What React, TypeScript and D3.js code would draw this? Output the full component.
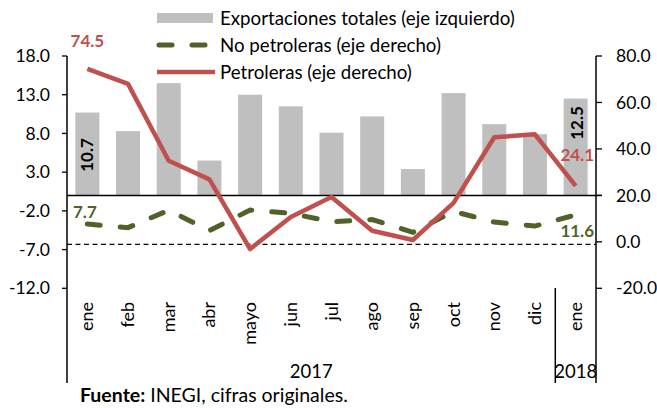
import React, { useEffect, useRef } from "react";
import * as d3 from "d3";

const categories = ["ene", "feb", "mar", "abr", "mayo", "jun", "jul", "ago", "sep", "oct", "nov", "dic", "ene"];
const years = [
  { label: "2017", from: 0, to: 11 },
  { label: "2018", from: 12, to: 12 },
];
const totales = [10.7, 8.3, 14.5, 4.5, 13.0, 11.5, 8.1, 10.2, 3.4, 13.2, 9.2, 7.9, 12.5];
const noPetroleras = [7.7, 6.1, 13.6, 4.8, 13.7, 12.3, 8.6, 9.6, 4.1, 13.1, 8.5, 6.8, 11.6];
const petroleras = [74.5, 68.0, 34.9, 26.9, -3.1, 10.7, 19.3, 4.8, 0.8, 16.8, 45.0, 46.3, 24.1];
const leftTicks = [-12, -7, -2, 3, 8, 13, 18];
const rightTicks = [-20, 0, 20, 40, 60, 80];
const legendLabels = [
  "Exportaciones totales (eje izquierdo)",
  "No petroleras (eje derecho)",
  "Petroleras (eje derecho)",
];

const FONT = "Lato, 'Open Sans', sans-serif";
const GRAY = "#BFBFBF";
const RED = "#C0504D";
const GREEN = "#4F6228";

export default function App() {
  const ref = useRef<SVGSVGElement>(null);

  useEffect(() => {
    const svg = d3.select(ref.current);
    svg.selectAll("*").remove();

    const left = 67, right = 596, top = 56, bottom = 288.3;
    const x = d3.scaleBand<number>().domain(categories.map((_, i) => i)).range([left, right]).paddingInner(0.41).paddingOuter(0.205);
    const yL = d3.scaleLinear().domain([-12, 18]).range([bottom, top]);
    const yR = d3.scaleLinear().domain([-20, 80]).range([bottom, top]);
    const cx = (i: number) => (x(i) as number) + x.bandwidth() / 2;
    const fmt = (v: number) => v.toFixed(1);

    // bars
    svg.append("g").selectAll("rect").data(totales).join("rect")
      .attr("x", (_, i) => x(i) as number)
      .attr("width", x.bandwidth())
      .attr("y", (d) => Math.min(yL(d), yL(0)))
      .attr("height", (d) => Math.abs(yL(d) - yL(0)))
      .attr("fill", GRAY);

    // reference dashed line at right-axis zero
    svg.append("line")
      .attr("x1", left).attr("x2", right)
      .attr("y1", yR(0) + 2.5).attr("y2", yR(0) + 2.5)
      .attr("stroke", "#000").attr("stroke-width", 1.2).attr("stroke-dasharray", "5 3.5");

    // category axis at left zero
    svg.append("line")
      .attr("x1", left).attr("x2", right + 6)
      .attr("y1", yL(0)).attr("y2", yL(0))
      .attr("stroke", "#000").attr("stroke-width", 1.5);

    // axes lines
    const axisBottom = 383;
    svg.append("line").attr("x1", left).attr("x2", left).attr("y1", top).attr("y2", axisBottom)
      .attr("stroke", "#000").attr("stroke-width", 1.5);
    svg.append("line").attr("x1", right).attr("x2", right).attr("y1", top).attr("y2", axisBottom)
      .attr("stroke", "#000").attr("stroke-width", 1.5);
    // group separator
    const sepX = (x(12) as number) - (x.step() - x.bandwidth()) / 2;
    svg.append("line").attr("x1", sepX).attr("x2", sepX).attr("y1", 288).attr("y2", axisBottom)
      .attr("stroke", "#000").attr("stroke-width", 1.5);

    // left ticks
    const lt = svg.append("g");
    leftTicks.forEach((t) => {
      lt.append("line").attr("x1", left - 5).attr("x2", left).attr("y1", yL(t)).attr("y2", yL(t))
        .attr("stroke", "#000").attr("stroke-width", 1.3);
      lt.append("text").attr("x", 50).attr("y", yL(t)).attr("dy", "0.35em")
        .attr("text-anchor", "end").attr("font-family", FONT).attr("font-size", 17.5).attr("fill", "#000")
        .text(fmt(t));
    });
    const rt = svg.append("g");
    rightTicks.forEach((t) => {
      rt.append("line").attr("x1", right).attr("x2", right + 6).attr("y1", yR(t)).attr("y2", yR(t))
        .attr("stroke", "#000").attr("stroke-width", 1.3);
      rt.append("text").attr("x", 616).attr("y", yR(t)).attr("dy", "0.35em")
        .attr("text-anchor", "start").attr("font-family", FONT).attr("font-size", 17.5).attr("fill", "#000")
        .text(fmt(t));
    });

    // category labels
    categories.forEach((c, i) => {
      svg.append("text")
        .attr("transform", `translate(${cx(i) + 6},302) rotate(-90)`)
        .attr("text-anchor", "end").attr("font-family", FONT).attr("font-size", 18).attr("fill", "#000")
        .text(c);
    });
    // year labels
    years.forEach((yr) => {
      const a = (x(yr.from) as number) - (x.step() - x.bandwidth()) / 2;
      const b = (x(yr.to) as number) + x.bandwidth() + (x.step() - x.bandwidth()) / 2;
      svg.append("text").attr("x", (a + b) / 2).attr("y", 378)
        .attr("text-anchor", "middle").attr("font-family", FONT).attr("font-size", 18.5).attr("fill", "#000")
        .text(yr.label);
    });

    // lines
    const lineR = d3.line<number>().x((_, i) => cx(i)).y((d) => yR(d));
    svg.append("path").datum(noPetroleras).attr("d", lineR)
      .attr("fill", "none").attr("stroke", GREEN).attr("stroke-width", 5)
      .attr("stroke-linecap", "round").attr("stroke-dasharray", "13 20");
    svg.append("path").datum(petroleras).attr("d", lineR)
      .attr("fill", "none").attr("stroke", RED).attr("stroke-width", 4.5)
      .attr("stroke-linejoin", "round");

    // data labels
    const last = categories.length - 1;
    svg.append("text").attr("x", cx(0)).attr("y", 47).attr("text-anchor", "middle")
      .attr("font-family", FONT).attr("font-weight", "bold").attr("font-size", 17).attr("fill", RED)
      .text(fmt(petroleras[0]));
    svg.append("text").attr("x", 594).attr("y", 161).attr("text-anchor", "end")
      .attr("font-family", FONT).attr("font-weight", "bold").attr("font-size", 17).attr("fill", RED)
      .text(fmt(petroleras[last]));
    svg.append("text").attr("x", 73).attr("y", 218).attr("text-anchor", "start")
      .attr("font-family", FONT).attr("font-weight", "bold").attr("font-size", 17).attr("fill", GREEN)
      .text(fmt(noPetroleras[0]));
    svg.append("text").attr("x", 594).attr("y", 237).attr("text-anchor", "end")
      .attr("font-family", FONT).attr("font-weight", "bold").attr("font-size", 17).attr("fill", GREEN)
      .text(fmt(noPetroleras[last]));
    svg.append("text").attr("transform", `translate(${cx(0) + 6},155) rotate(-90)`)
      .attr("text-anchor", "middle").attr("font-family", FONT).attr("font-weight", "bold").attr("font-size", 17).attr("fill", "#000")
      .text(fmt(totales[0]));
    svg.append("text").attr("transform", `translate(${cx(last) + 7},123) rotate(-90)`)
      .attr("text-anchor", "middle").attr("font-family", FONT).attr("font-weight", "bold").attr("font-size", 17).attr("fill", "#000")
      .text(fmt(totales[last]));

    // legend
    const lg = svg.append("g");
    const rows = [18, 45, 72];
    lg.append("rect").attr("x", 157).attr("y", 13).attr("width", 56).attr("height", 10).attr("fill", GRAY);
    lg.append("line").attr("x1", 159).attr("x2", 213).attr("y1", rows[1]).attr("y2", rows[1])
      .attr("stroke", GREEN).attr("stroke-width", 5).attr("stroke-linecap", "round").attr("stroke-dasharray", "13 20");
    lg.append("line").attr("x1", 157).attr("x2", 215).attr("y1", rows[2]).attr("y2", rows[2])
      .attr("stroke", RED).attr("stroke-width", 4.5);
    legendLabels.forEach((l, i) => {
      lg.append("text").attr("x", 220).attr("y", rows[i]).attr("dy", "0.35em")
        .attr("font-family", FONT).attr("font-size", 18.7).attr("fill", "#000").text(l);
    });

    // source
    const src = svg.append("text").attr("x", 80).attr("y", 402)
      .attr("font-family", FONT).attr("font-size", 19.5).attr("fill", "#000");
    src.append("tspan").attr("font-weight", "bold").text("Fuente:");
    src.append("tspan").text(" INEGI, cifras originales.");
  }, []);

  return (
    <svg ref={ref} width={657} height={408} style={{ position: "absolute", left: 0, top: 0, background: "#fff" }} />
  );
}
